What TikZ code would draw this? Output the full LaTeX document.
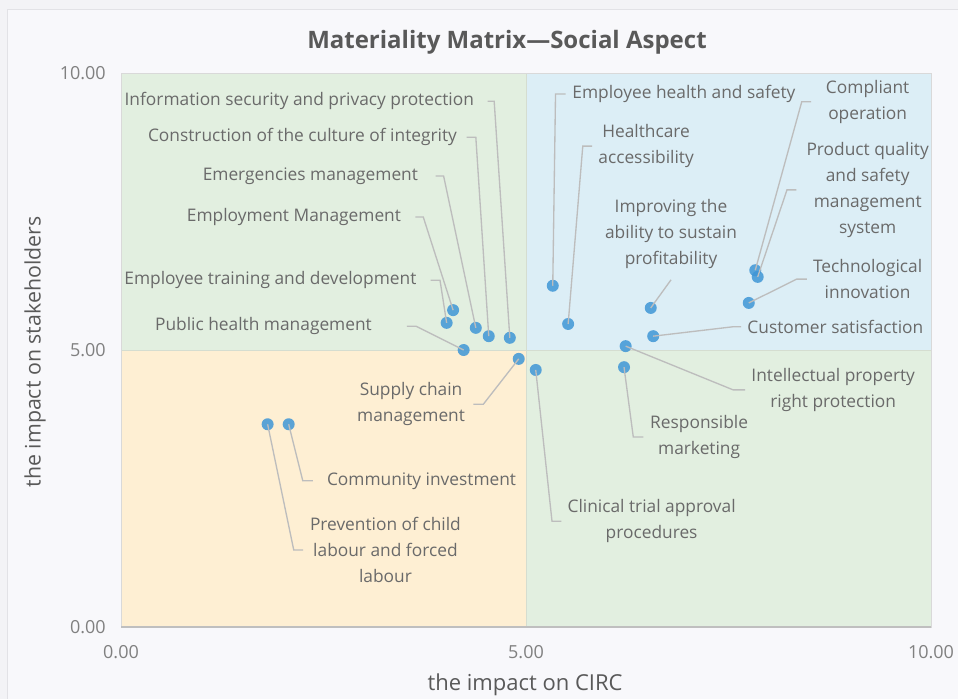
\documentclass[tikz,border=0pt]{standalone}
\usepackage{fontspec}
\setmainfont{Open Sans}
\definecolor{bgout}{HTML}{F3F3F6}
\definecolor{bgin}{HTML}{F8F8FB}
\definecolor{framecol}{HTML}{E2E2E6}
\definecolor{qgreen}{HTML}{E2EFE0}
\definecolor{qblue}{HTML}{DCEEF6}
\definecolor{qorange}{HTML}{FEEFD3}
\definecolor{sepcol}{HTML}{D5DDD0}
\definecolor{bordercol}{HTML}{D9D9D9}
\definecolor{axiscol}{HTML}{BFBFBF}
\definecolor{dotblue}{HTML}{3F96D6}
\definecolor{leadgray}{HTML}{BDBDBD}
\definecolor{txtgray}{HTML}{6A6A6A}
\definecolor{tickgray}{HTML}{808080}
\definecolor{titlegray}{HTML}{595959}

\begin{document}
\begin{tikzpicture}[x=60.75pt, y=41.55pt,
  dot/.style = {circle, fill=dotblue, fill opacity=0.85, inner sep=0pt, minimum size=9pt},
  lbl/.style = {text=txtgray, font=\fontsize{13}{19.5}\selectfont, align=center, inner sep=0pt},
  tick/.style = {text=tickgray, font=\fontsize{13.5}{15}\selectfont, inner sep=0pt},
  lead/.style = {draw=leadgray, line width=1pt}]
	\useasboundingbox (-1.494,-1.300) rectangle (10.333,11.318);
	\fill[bgout] (-1.494,-1.300) rectangle (10.333,11.318);
	\fill[bgin] (-1.407,-1.300) rectangle (10.333,11.155);
	\draw[framecol] (-1.407,-1.300) -- (-1.407,11.155) -- (10.333,11.155);
	
	% quadrants
	\fill[qgreen] (0,5) rectangle (5,10);
	\fill[qblue] (5,5) rectangle (10,10);
	\fill[qorange] (0,0) rectangle (5,5);
	\fill[qgreen] (5,0) rectangle (10,5);
	\draw[sepcol] (5,0) -- (5,10);
	\draw[sepcol] (0,5) -- (10,5);
	\draw[bordercol] (0,0) rectangle (10,10);
	\draw[axiscol, line width=1.2pt] (0,0) -- (10,0);
	
	\node[font=\bfseries\fontsize{18}{21}\selectfont, text=titlegray] (title) at (4.765,10.56) {Materiality Matrix—Social Aspect};
	\node[tick, anchor=east] (y10) at (-0.185,10) {10.00};
	\node[tick, anchor=east] (y5) at (-0.185,5) {5.00};
	\node[tick, anchor=east] (y0) at (-0.185,0) {0.00};
	\node[tick] (x0) at (0,-0.451) {0.00};
	\node[tick] (x5) at (5,-0.451) {5.00};
	\node[tick] (x10) at (10,-0.451) {10.00};
	\node[text=titlegray, font=\fontsize{16}{19}\selectfont, rotate=90] (ylab) at (-1.062,4.964) {the impact on stakeholders};
	\node[text=titlegray, font=\fontsize{16.5}{19}\selectfont] (xlab) at (4.988,-1.047) {the impact on CIRC};
	
	% points
	\node[dot] (isec) at (4.80,5.22) {};
	\node[dot] (culture) at (4.54,5.25) {};
	\node[dot] (emerg) at (4.38,5.40) {};
	\node[dot] (employ) at (4.10,5.72) {};
	\node[dot] (train) at (4.02,5.49) {};
	\node[dot] (public) at (4.23,5.00) {};
	\node[dot] (supply) at (4.91,4.84) {};
	\node[dot] (clinic) at (5.12,4.64) {};
	\node[dot] (market) at (6.21,4.69) {};
	\node[dot] (ip) at (6.23,5.07) {};
	\node[dot] (custom) at (6.57,5.25) {};
	\node[dot] (improve) at (6.54,5.76) {};
	\node[dot] (tech) at (7.75,5.85) {};
	\node[dot] (quality) at (7.86,6.32) {};
	\node[dot] (comply) at (7.83,6.44) {};
	\node[dot] (health) at (5.52,5.47) {};
	\node[dot] (safety) at (5.33,6.16) {};
	\node[dot] (commun) at (2.07,3.66) {};
	\node[dot] (child) at (1.81,3.66) {};
	
	% labels
	\node[lbl, anchor=east] (isec-t) at (4.36,9.49) {Information security and privacy protection};
	\node[lbl, anchor=east] (culture-t) at (4.15,8.84) {Construction of the culture of integrity};
	\node[lbl, anchor=east] (emerg-t) at (3.67,8.14) {Emergencies management};
	\node[lbl, anchor=east] (employ-t) at (3.46,7.40) {Employment Management};
	\node[lbl, anchor=east] (train-t) at (3.65,6.26) {Employee training and development};
	\node[lbl, anchor=east] (public-t) at (3.10,5.43) {Public health management};
	\node[lbl, anchor=east] (supply-t) at (4.25,4.02) {Supply chain\\management};
	\node[lbl, anchor=west] (clinic-t) at (5.51,1.91) {Clinical trial approval\\procedures};
	\node[lbl, anchor=west] (market-t) at (6.53,3.43) {Responsible\\marketing};
	\node[lbl, anchor=west] (ip-t) at (7.78,4.28) {Intellectual property\\right protection};
	\node[lbl, anchor=west] (custom-t) at (7.73,5.42) {Customer satisfaction};
	\node[lbl] (improve-t) at (6.79,7.09) {Improving the\\ability to sustain\\profitability};
	\node[lbl, anchor=west] (tech-t) at (8.54,6.28) {Technological\\innovation};
	\node[lbl, anchor=west] (quality-t) at (8.46,7.89) {Product quality\\and safety\\management\\system};
	\node[lbl, anchor=west] (comply-t) at (8.70,9.48) {Compliant\\operation};
	\node[lbl, anchor=west] (health-t) at (5.89,8.68) {Healthcare\\accessibility};
	\node[lbl, anchor=west] (safety-t) at (5.57,9.62) {Employee health and safety};
	\node[lbl, anchor=west] (commun-t) at (2.54,2.64) {Community investment};
	\node[lbl, anchor=west] (child-t) at (2.33,1.39) {Prevention of child\\labour and forced\\labour};
	
	% leaders
	\draw[lead] ([xshift=10pt]isec-t.east) -- ++(5pt,0) -- (isec.center);
	\draw[lead] ([xshift=7pt]culture-t.east) -- ++(7pt,0) -- (culture.center);
	\draw[lead] ([xshift=13pt]emerg-t.east) -- ++(6pt,0) -- (emerg.center);
	\draw[lead] ([xshift=10.5pt]employ-t.east) -- ++(6pt,0) -- (employ.center);
	\draw[lead] ([xshift=10.5pt]train-t.east) -- ++(7pt,0) -- (train.center);
	\draw[lead] ([xshift=26pt]public-t.east) -- ++(7pt,0) -- (public.center);
	\draw[lead] ([xshift=6pt]supply-t.east) -- ++(7.5pt,0) -- (supply.center);
	\draw[lead] ([xshift=-4.5pt]clinic-t.west) -- ++(-7pt,0) -- (clinic.center);
	\draw[lead] ([xshift=-5pt]market-t.west) -- ++(-7.5pt,0) -- (market.center);
	\draw[lead] ([xshift=-4.5pt]ip-t.west) -- ++(-9pt,0) -- (ip.center);
	\draw[lead] ([xshift=-4.5pt]custom-t.west) -- ++(-6pt,0) -- (custom.center);
	\draw[lead] ([yshift=-8pt]improve-t.south) -- (improve.center);
	\draw[lead] ([xshift=-4.5pt]tech-t.west) -- ++(-7.5pt,0) -- (tech.center);
	\draw[lead] ([xshift=-7.5pt]quality-t.west) -- ++(-7pt,0) -- (quality.center);
	\draw[lead] ([xshift=-11pt]comply-t.west) -- ++(-7pt,0) -- (comply.center);
	\draw[lead] ([xshift=-4.5pt]health-t.west) -- ++(-7pt,0) -- (health.center);
	\draw[lead] ([xshift=-5pt]safety-t.west) -- ++(-7.5pt,0) -- (safety.center);
	\draw[lead] ([xshift=-10.5pt]commun-t.west) -- ++(-7.5pt,0) -- (commun.center);
	\draw[lead] ([xshift=-5pt]child-t.west) -- ++(-7pt,0) -- (child.center);
	
\end{tikzpicture}
\end{document}
